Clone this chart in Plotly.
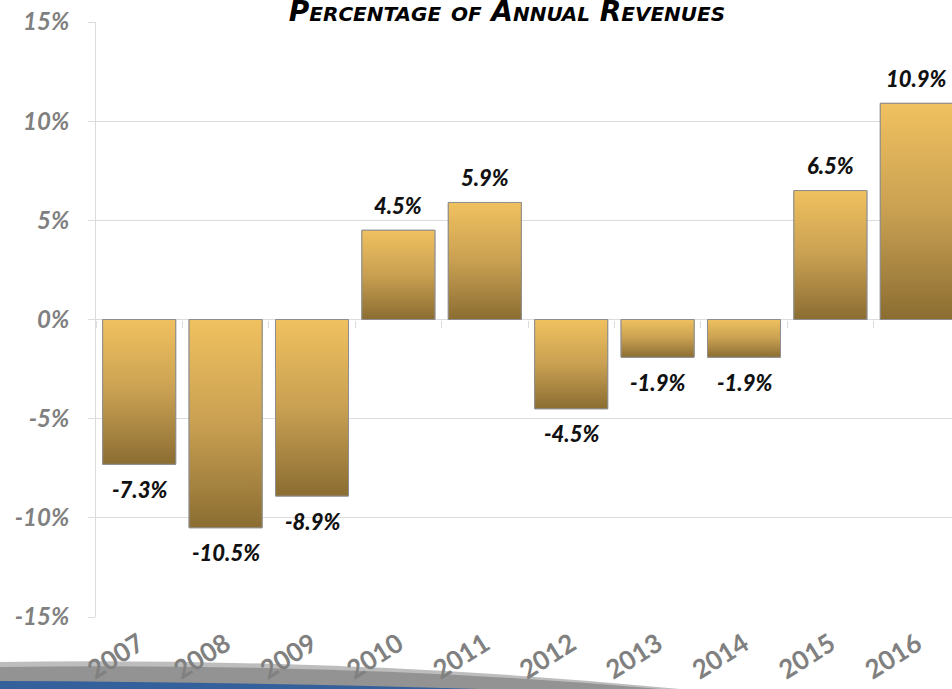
import plotly.graph_objects as go

# Annual change as a percentage of revenues
years = ["2007", "2008", "2009", "2010", "2011", "2012", "2013", "2014", "2015", "2016"]
values = [-7.3, -10.5, -8.9, 4.5, 5.9, -4.5, -1.9, -1.9, 6.5, 10.9]
y_tickvals = [-15, -10, -5, 0, 5, 10, 15]
y_ticktext = ["-15%", "-10%", "-5%", "0%", "5%", "10%", "15%"]

W, H = 952, 689
ML, MR, MT, MB = 96, 0, 22, 72
PW, PH = W - ML - MR, H - MT - MB

GOLD_TOP = "#F0C15F"
GOLD_BOT = "#8B6D32"
EDGE = "#8E8E8E"
GRID = "#DCDCDC"
TICK_GRAY = "#808080"
BAR_W = 0.845

xs = list(range(len(years)))

fig = go.Figure()

# base bars (outline + fallback fill)
fig.add_trace(go.Bar(
    x=xs, y=values, width=BAR_W,
    marker=dict(color=GOLD_TOP, line=dict(color=EDGE, width=1)),
    hoverinfo="x+y", showlegend=False,
))

# gradient fill drawn over each bar, from the same values
for x, v in zip(xs, values):
    x0, x1 = x - BAR_W / 2, x + BAR_W / 2
    fig.add_trace(go.Scatter(
        x=[x0, x1, x1, x0, x0], y=[0, 0, v, v, 0],
        mode="lines", fill="toself",
        fillgradient=dict(type="vertical",
                          colorscale=[[0, GOLD_BOT], [0.5, "#C9A052"], [1, GOLD_TOP]]),
        line=dict(color=EDGE, width=1),
        hoverinfo="skip", showlegend=False,
    ))

# value labels
for x, v in zip(xs, values):
    fig.add_annotation(
        x=x, y=v, xref="x", yref="y", text=f"{v:.1f}%", showarrow=False,
        yshift=25 if v >= 0 else -25,
        font=dict(family="Lato", size=22, color="#111111", style="italic", weight=900),
    )

# tick marks on the zero line at category boundaries
fig.add_trace(go.Scatter(x=[None], y=[None], xaxis="x2", yaxis="y", showlegend=False, hoverinfo="skip"))


def px(xp, yp):
    return (xp - ML) / PW, (MT + PH - yp) / PH


def path(points_cmds):
    out = []
    for cmd, pts in points_cmds:
        coords = " ".join(f"{a:.4f},{b:.4f}" for a, b in (px(*p) for p in pts))
        out.append(f"{cmd} {coords}")
    return " ".join(out) + " Z"


# decorative swoosh along the bottom
fig.add_shape(type="path", xref="paper", yref="paper", layer="below", line=dict(width=0),
              fillcolor="#BDBDBD",
              path=path([("M", [(-5, 662)]), ("Q", [(350, 657), (680, 689)]), ("L", [(-5, 689)])]))
fig.add_shape(type="path", xref="paper", yref="paper", layer="below", line=dict(width=0),
              fillcolor="#939393",
              path=path([("M", [(-5, 667)]), ("Q", [(350, 662), (660, 689)]), ("L", [(-5, 689)])]))
fig.add_shape(type="path", xref="paper", yref="paper", layer="below", line=dict(width=0),
              fillcolor="#34609C",
              path=path([("M", [(-5, 681)]), ("Q", [(250, 682), (480, 689)]), ("L", [(-5, 689)])]))

title_font = dict(family="DejaVu Sans", size=28, color="#000000", style="italic", weight=700,
                  variant="small-caps")

fig.update_layout(
    width=W, height=H,
    margin=dict(l=ML, r=MR, t=MT, b=MB),
    paper_bgcolor="white", plot_bgcolor="white",
    title=dict(text="Percentage of Annual Revenues", font=title_font,
               x=(507 - ML) / PW, xref="paper", xanchor="center",
               y=1 - 11 / H, yref="container", yanchor="middle"),
    xaxis=dict(
        range=[-0.5, (W - ML) / 86.4 - 0.5],
        tickvals=xs, ticktext=years, tickangle=-32,
        tickfont=dict(family="Lato", size=26, color=TICK_GRAY, weight=700),
        showgrid=False, zeroline=False, showline=False, ticks="",
        ticklabelstandoff=6,
    ),
    xaxis2=dict(
        overlaying="x", matches="x", anchor="free", position=0.5,
        tickvals=[i - 0.5 for i in range(len(years) + 1)],
        ticks="outside", ticklen=7, tickcolor=GRID, tickwidth=1,
        showticklabels=False, showgrid=False, zeroline=False, showline=False,
    ),
    yaxis=dict(
        range=[-15, 15], tickvals=y_tickvals, ticktext=y_ticktext,
        tickfont=dict(family="Lato", size=24, color=TICK_GRAY, style="italic", weight=700),
        showgrid=True, gridcolor=GRID, gridwidth=1,
        zeroline=False, showline=True, linecolor=GRID, linewidth=1,
        ticks="outside", ticklen=7, tickcolor=GRID,
        ticklabelstandoff=14,
    ),
)

fig.write_html("out.html")
